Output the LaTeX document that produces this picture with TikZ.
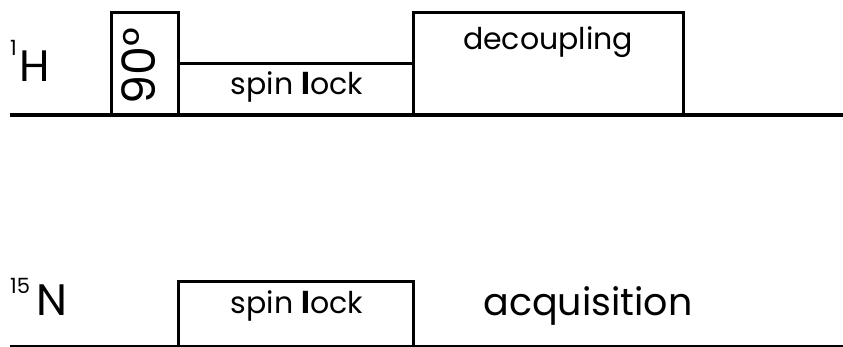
\documentclass[tikz,border=0pt]{standalone}
\usepackage{fontspec}
\setmainfont{Poppins}
\begin{document}
\begin{tikzpicture}[x=1pt,y=-1pt,
  axisthick/.style={line width=4pt},
  axisthin/.style={line width=2pt},
  pulse/.style={line width=3pt},
  lbl/.style={inner sep=0pt,anchor=base,font=\fontsize{30}{30}\selectfont},
  big/.style={inner sep=0pt,anchor=base,font=\fontsize{38}{38}\selectfont},
  nuc/.style={inner sep=0pt,anchor=base west,font=\fontsize{44}{44}\selectfont},
  sup/.style={inner sep=0pt,anchor=base west,font=\fontsize{21}{21}\selectfont}]
\useasboundingbox (0,0) rectangle (843,347);
% 1H channel
\draw[axisthick] (10,115) -- (843,115);
\draw[pulse] (111,115) |- (178,13) -- (178,115);
\draw[pulse] (178,64) -- (413,64);
\draw[pulse] (413,115) |- (683,13) -- (683,115);
% 15N channel
\draw[axisthin] (10,346) -- (843,346);
\draw[pulse] (178,346) |- (413,282) -- (413,346);
% labels
\node[sup] (h1) at (10,56) {1};
\node[nuc] (H) at (19,82) {H};
\node[sup] (n15) at (10,294) {15};
\node[nuc] (N) at (36,315) {N};
\node[inner sep=0pt,rotate=90,font=\fontsize{46}{46}\selectfont] (p90) at (139,66) {90°};
\node[lbl] (sl1) at (297,95) {spin \textbf{l}ock};
\node[lbl] (dec) at (548,50) {decoupling};
\node[lbl] (sl2) at (297,313) {spin \textbf{l}ock};
\node[big] (acq) at (588,315) {acquisition};
\end{tikzpicture}
\end{document}
